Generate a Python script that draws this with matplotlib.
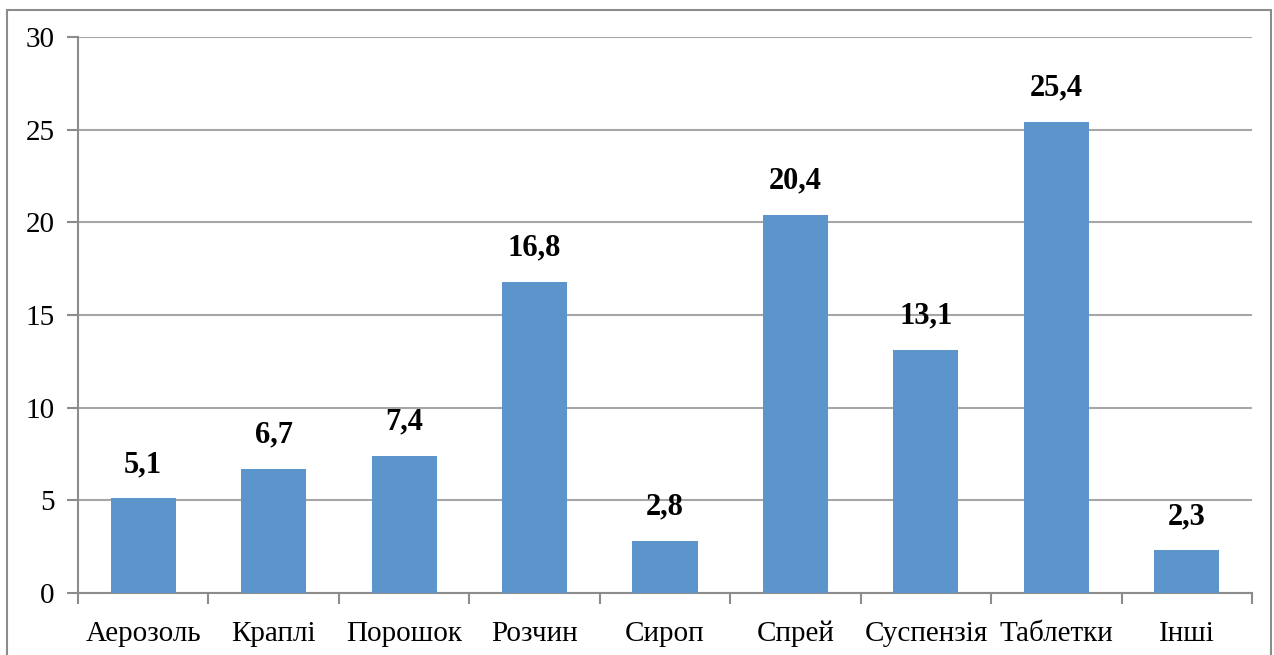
import matplotlib.pyplot as plt
from matplotlib.patches import Rectangle

categories = ['Аерозоль', 'Краплі', 'Порошок', 'Розчин', 'Сироп', 'Спрей', 'Суспензія', 'Таблетки', 'Інші']
values = [5.1, 6.7, 7.4, 16.8, 2.8, 20.4, 13.1, 25.4, 2.3]
labels = ['5,1', '6,7', '7,4', '16,8', '2,8', '20,4', '13,1', '25,4', '2,3']
yticks = [0, 5, 10, 15, 20, 25, 30]

plt.rcParams['font.family'] = ['Liberation Serif', 'DejaVu Serif']

fig = plt.figure(figsize=(12.74, 6.55), dpi=100)
ax = fig.add_axes([78/1274, 1 - 593/655, (1252 - 78)/1274, (593 - 37)/655])

# outer chart border
fig.patches.append(Rectangle((7/1274, -0.02), 1264/1274, 1.02 - 9.5/655,
                             transform=fig.transFigure, fill=False,
                             edgecolor='#8c8c8c', linewidth=1.5))

x = range(len(categories))
ax.bar(x, values, width=0.5, color='#5b95cb', zorder=3)
for i, v in enumerate(values):
    ax.text(i, v + 1.05, labels[i], ha='center', va='bottom',
            fontsize=22, fontweight='bold')

ax.set_xlim(-0.5, len(categories) - 0.5)
ax.set_ylim(0, 30)
ax.set_yticks(yticks)
ax.set_yticklabels([str(t) for t in yticks], fontsize=21)
ax.yaxis.grid(True, color='#a6a6a6', linewidth=1.5, zorder=0)

ax.set_xticks(list(x))
ax.set_xticklabels(categories, fontsize=21)
ax.tick_params(axis='x', length=0, pad=20)
ax.set_xticks([i + 0.5 for i in range(-1, len(categories))], minor=True)
ax.tick_params(axis='x', which='minor', length=8, width=1.5, color='#8c8c8c')
ax.tick_params(axis='y', length=8, width=1.5, color='#8c8c8c', pad=9)

for s in ['top', 'right']:
    ax.spines[s].set_visible(False)
for s in ['left', 'bottom']:
    ax.spines[s].set_color('#8c8c8c')
    ax.spines[s].set_linewidth(1.5)

fig.savefig('out.png', dpi=100)
